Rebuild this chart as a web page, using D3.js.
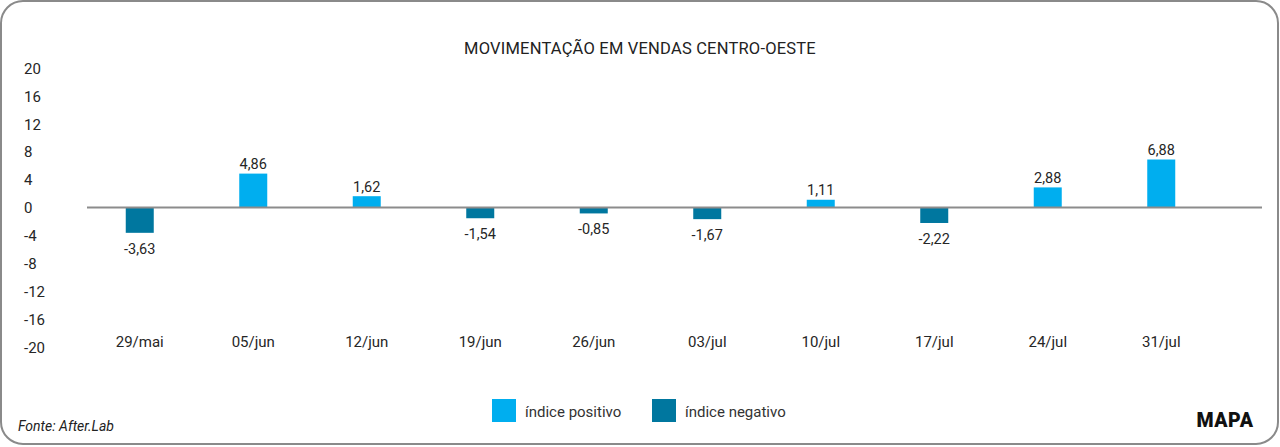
<!DOCTYPE html>
<html><head><meta charset="utf-8">
<script src="https://cdn.jsdelivr.net/npm/d3@7"></script>
<style>
html,body{margin:0;padding:0;background:#fff;}
svg{display:block;font-family:Roboto, "Noto Sans", sans-serif;}
</style></head>
<body>
<svg id="chart" width="1280" height="447"></svg>
<script>
const title = "MOVIMENTAÇÃO EM VENDAS CENTRO-OESTE";
const categories = ["29/mai","05/jun","12/jun","19/jun","26/jun","03/jul","10/jul","17/jul","24/jul","31/jul"];
const positivo = [null, 4.86, 1.62, null, null, null, 1.11, null, 2.88, 6.88];
const negativo = [-3.63, null, null, -1.54, -0.85, -1.67, null, -2.22, null, null];
const yTicks = [20,16,12,8,4,0,-4,-8,-12,-16,-20];
const seriesNames = ["índice positivo","índice negativo"];
const colors = ["#00AEEF","#00779F"];

const svg = d3.select("#chart");
const W = 1280, H = 447;

svg.append("rect").attr("x",1).attr("y",1).attr("width",W-3).attr("height",H-4)
  .attr("rx",22).attr("ry",22).attr("fill","#fff").attr("stroke","#8a8a8a").attr("stroke-width",2);

const x = d3.scaleBand().domain(categories).range([83, 1218]).paddingInner(0.753).paddingOuter(0.3765);
const y = d3.scaleLinear().domain([-20,20]).range([347,68]);
const barW = 28;
const fmt = v => d3.format(".2f")(v).replace(".", ",").replace("\u2212", "-");
const fmtTick = v => String(v);

// title
svg.append("text").attr("x",640).attr("y",54).attr("text-anchor","middle")
  .attr("font-size",16.5).attr("fill","#222").attr("letter-spacing",0.2).text(title);

// y tick labels
const yAxis = d3.axisLeft(y).tickValues(yTicks).tickSize(0).tickFormat(fmtTick);
const gy = svg.append("g").attr("transform","translate(24,0)").call(yAxis);
gy.select(".domain").remove();
gy.selectAll("text").attr("text-anchor","start").attr("x",0).attr("dy","0.35em")
  .attr("font-size",15).attr("fill","#262626").attr("font-family","Roboto, sans-serif");

// x category labels
const xAxis = d3.axisBottom(x).tickSize(0);
const gx = svg.append("g").attr("transform","translate(0,333)").call(xAxis);
gx.select(".domain").remove();
gx.selectAll("text").attr("font-size",15).attr("fill","#262626").attr("font-family","Roboto, sans-serif")
  .attr("dy","0.71em");

const data = categories.map((c,i)=>({c, p:positivo[i], n:negativo[i]}));

// bars
[["p",0],["n",1]].forEach(([k,si])=>{
  const d = data.filter(e=>e[k]!==null);
  svg.append("g").selectAll("rect").data(d).join("rect")
    .attr("x", e=>x(e.c)+x.bandwidth()/2-barW/2)
    .attr("width", barW)
    .attr("y", e=>Math.min(y(e[k]),y(0)))
    .attr("height", e=>Math.abs(y(e[k])-y(0)))
    .attr("fill", colors[si]);
  svg.append("g").selectAll("text").data(d).join("text")
    .attr("x", e=>x(e.c)+x.bandwidth()/2)
    .attr("y", e=> e[k]>=0 ? y(e[k])-4.5 : y(e[k])+21)
    .attr("text-anchor","middle").attr("font-size",14.5).attr("fill","#262626")
    .text(e=>fmt(e[k]));
});

// zero line
svg.append("line").attr("x1",87).attr("x2",1262).attr("y1",y(0)).attr("y2",y(0))
  .attr("stroke","#8c8c8c").attr("stroke-width",2);

// legend
const lg = svg.append("g");
const lx = [492, 652];
seriesNames.forEach((n,i)=>{
  lg.append("rect").attr("x",lx[i]).attr("y",399).attr("width",24).attr("height",23).attr("fill",colors[i]);
  lg.append("text").attr("x",lx[i]+33).attr("y",417).attr("font-size",15).attr("fill","#333").text(n);
});

// footer
svg.append("text").attr("x",18).attr("y",431).attr("font-size",14).attr("font-style","italic")
  .attr("fill","#222").text("Fonte: After.Lab");
svg.append("text").attr("x",1225).attr("y",427).attr("text-anchor","middle").attr("font-size",19.5)
  .attr("font-weight",900).attr("fill","#111").attr("letter-spacing",0.5).text("MAPA");
</script>
</body></html>
